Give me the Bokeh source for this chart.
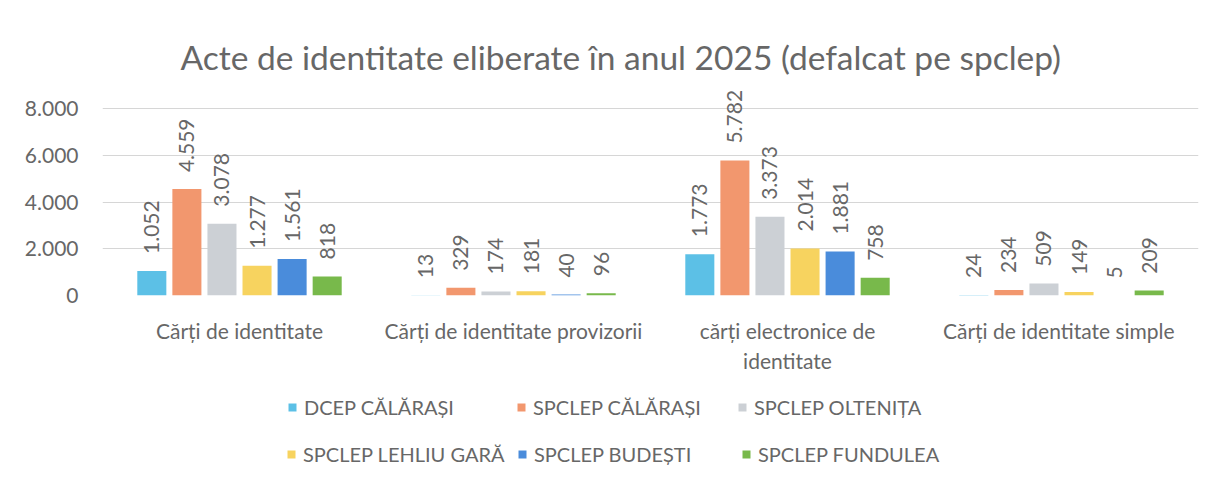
from bokeh.plotting import figure
from bokeh.layouts import column
from bokeh.models import (FactorRange, Range1d, Legend, LegendItem, ColumnDataSource,
                          FixedTicker, LabelSet)
from bokeh.core.properties import value
from bokeh.transform import dodge
from bokeh.embed import file_html
from bokeh.resources import INLINE

categories = ["Cărți de identitate", "Cărți de identitate provizorii",
              "cărți electronice de\nidentitate", "Cărți  de identitate simple"]
series_names = ["DCEP CĂLĂRAȘI", "SPCLEP CĂLĂRAȘI", "SPCLEP OLTENIȚA",
                "SPCLEP LEHLIU GARĂ", "SPCLEP BUDEȘTI", "SPCLEP FUNDULEA"]
dcep_calarasi = [1052, 13, 1773, 24]
spclep_calarasi = [4559, 329, 5782, 234]
spclep_oltenita = [3078, 174, 3373, 509]
spclep_lehliu = [1277, 181, 2014, 149]
spclep_budesti = [1561, 40, 1881, 5]
spclep_fundulea = [818, 96, 758, 209]
y_ticks = [0, 2000, 4000, 6000, 8000]
y_tick_labels = ["0", "2.000", "4.000", "6.000", "8.000"]

series_values = [dcep_calarasi, spclep_calarasi, spclep_oltenita,
                 spclep_lehliu, spclep_budesti, spclep_fundulea]
colors = ["#5CC0E6", "#F2976E", "#CCD0D5", "#F7D35F", "#4A8CDB", "#78B94B"]
offsets = [-0.32, -0.192, -0.064, 0.064, 0.192, 0.32]
# legend entry placement inside the legend strip's frame: (x of swatch, y from bottom)
legend_pos = [(185, 70), (414, 70), (635, 70), (184, 23), (415, 23), (639, 23)]

FONT = "Lato"
TXT = "#676767"

p = figure(width=1217, height=380, x_range=FactorRange(*categories, range_padding=0),
           y_range=Range1d(0, 9000), output_backend="svg", toolbar_location=None,
           min_border_left=102, min_border_right=19, min_border_top=85,
           min_border_bottom=85)
p.outline_line_color = None
p.background_fill_color = "white"
p.border_fill_color = "white"

p.title.text = "Acte de identitate eliberate în anul 2025 (defalcat pe spclep)"
p.title.text_font = FONT
p.title.text_font_size = "33.5px"
p.title.text_font_style = "normal"
p.title.text_color = TXT
p.title.align = "left"
p.title.offset = 78
p.title.standoff = 18

sources = []
for name, vals, col, off in zip(series_names, series_values, colors, offsets):
    src = ColumnDataSource(dict(x=categories, top=vals,
                                lbl=[f"{v:,}".replace(",", ".") for v in vals]))
    sources.append(src)
    p.vbar(x=dodge("x", off, range=p.x_range), top="top", width=0.106,
           source=src, fill_color=col, line_color=None)
    labels = LabelSet(x=dodge("x", off, range=p.x_range), y="top", text="lbl",
                      source=src, angle=1.5708, text_align="left",
                      text_baseline="middle", x_offset=0, y_offset=17,
                      text_font=value(FONT), text_font_size="21px", text_color=TXT)
    p.add_layout(labels)

p.yaxis.ticker = FixedTicker(ticks=y_ticks)
p.yaxis.major_label_overrides = {t: l for t, l in zip(y_ticks, y_tick_labels)}
p.yaxis.axis_line_color = None
p.yaxis.major_tick_line_color = None
p.yaxis.minor_tick_line_color = None
p.yaxis.major_label_text_font = FONT
p.yaxis.major_label_text_font_size = "21px"
p.yaxis.major_label_text_color = TXT
p.yaxis.major_label_standoff = 18

p.xaxis.axis_line_color = None
p.xaxis.major_tick_line_color = None
p.xaxis.major_label_text_font = FONT
p.xaxis.major_label_text_font_size = "21px"
p.xaxis.major_label_text_color = TXT
p.xaxis.major_label_standoff = 16

p.xgrid.grid_line_color = None
p.ygrid.ticker = FixedTicker(ticks=y_ticks)
p.ygrid.grid_line_color = "#D6D6D6"
p.ygrid.grid_line_width = 1

# legend strip: the same series as hidden renderers, only the legend shows
lg = figure(width=1217, height=109, x_range=FactorRange(*categories),
            y_range=Range1d(-2, -1), output_backend="svg", toolbar_location=None,
            min_border=0)
lg.axis.visible = False
lg.grid.visible = False
lg.outline_line_color = None
lg.border_fill_color = "white"
lg.background_fill_color = "white"
for name, col, src, (lx, ly) in zip(series_names, colors, sources, legend_pos):
    r = lg.vbar(x="x", top="top", width=0.1, source=src, fill_color=col,
                line_color=None)
    r.visible = False
    leg = Legend(items=[LegendItem(label=name, renderers=[r])], location=(lx, ly),
                 label_text_font=FONT, label_text_font_size="20px",
                 label_text_color=TXT, glyph_width=10, glyph_height=10,
                 label_standoff=7, border_line_color=None,
                 background_fill_alpha=0, padding=0, margin=0,
                 click_policy="none", inactive_fill_alpha=0)
    lg.add_layout(leg, "center")

layout = column(p, lg, spacing=0)
open("out.html", "w").write(file_html(layout, INLINE))
